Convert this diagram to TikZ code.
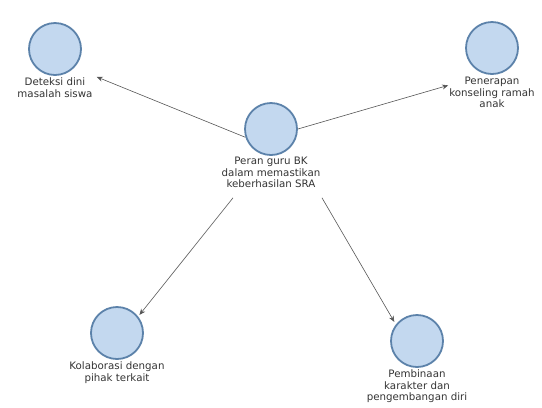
\documentclass[tikz,border=0pt]{standalone}
\usepackage{fontspec}
\setmainfont{DejaVu Sans}
\usetikzlibrary{arrows.meta,positioning}
\definecolor{bubblefill}{HTML}{C3D8EF}
\definecolor{bubbleline}{HTML}{5C82AA}
\definecolor{linkgray}{HTML}{555555}

\begin{document}
\begin{tikzpicture}
  [
    x=1bp, y=-1bp,
    Bubble/.style={circle, draw=bubbleline, fill=bubblefill, line width=1.8bp, minimum size=52bp, inner sep=0pt},
    Caption/.style={align=center, inner sep=1bp, font=\fontsize{10.3}{11.5}\selectfont, text=black!80},
    Link/.style={draw=linkgray, line width=0.6bp, -{Stealth[length=6bp,width=5bp]}}
  ]
  \useasboundingbox (0,0) rectangle (542,407);
  % Nodes
  \node[Bubble] (c0) at (271,129) {};
  \node[Caption, below=0bp of c0] (t0) {Peran guru BK\\dalam memastikan\\keberhasilan SRA};

  \node[Bubble] (c1) at (55,49) {};
  \node[Caption, below=1bp of c1] (t1) {Deteksi dini\\masalah siswa};

  \node[Bubble] (c2) at (492,48) {};
  \node[Caption, below=1bp of c2] (t2) {Penerapan\\konseling ramah\\anak};

  \node[Bubble] (c3) at (117,333) {};
  \node[Caption, below=1bp of c3] (t3) {Kolaborasi dengan\\pihak terkait};

  \node[Bubble] (c4) at (417,341) {};
  \node[Caption, below=1bp of c4] (t4) {Pembinaan\\karakter dan\\pengembangan diri};

  % Links
  \draw[Link] (c0.198) -- ([xshift=3bp]t1.north east);
  \draw[Link] (c0.east) -- ([yshift=7bp]t2.west);
  \draw[Link, shorten >=2bp] ([xshift=-38bp,yshift=-9bp]t0.south) -- (c3.38);
  \draw[Link, shorten >=3bp] ([xshift=51bp,yshift=-9bp]t0.south) -- (c4.142);
\end{tikzpicture}
\end{document}
